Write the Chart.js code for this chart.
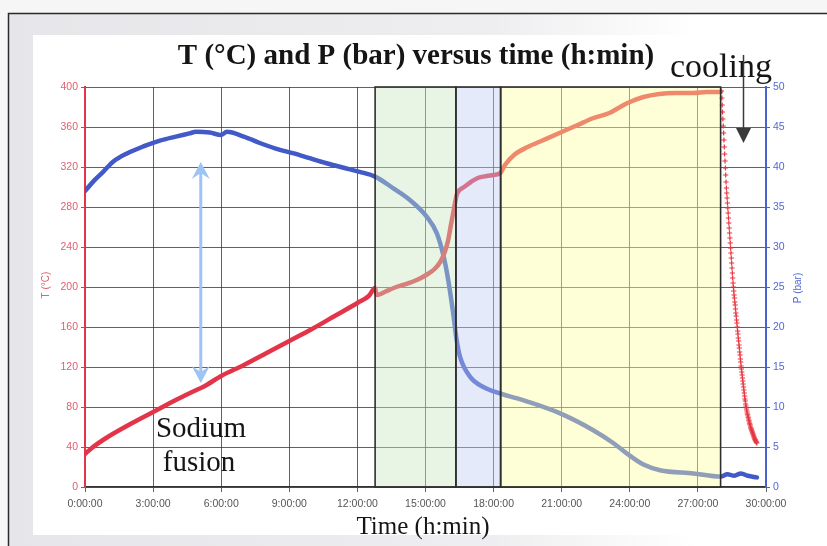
<!DOCTYPE html>
<html>
<head>
<meta charset="utf-8">
<title>T and P versus time</title>
<script src="https://cdn.jsdelivr.net/npm/chart.js@4.4.1/dist/chart.umd.min.js"></script>
<style>
  html, body { margin: 0; padding: 0; background: #fff; }
  #runChart { display: block; }
</style>
</head>
<body>
<canvas id="runChart" width="827" height="546"></canvas>
<script>
// ---- run log: temperature (°C) vs elapsed time (h) ----
var tempTime = [0, 0.3, 1, 2, 3, 4, 5, 5.2, 6, 7, 8, 9, 10, 11, 12, 12.5, 12.78, 12.85, 13.2,
                13.6, 14.0, 14.4, 14.8, 15.1, 15.4, 15.65, 15.85, 16.0, 16.12, 16.22, 16.3, 16.37, 16.5, 16.7, 17.0,
                17.3, 17.7, 18.0, 18.3, 18.5, 18.9, 19.5, 20.2, 20.9, 21.7, 22.4, 23.1, 23.5, 23.9,
                24.6, 25.3, 26.0, 26.8, 27.4, 28.0];
var tempValues = [33, 39, 50, 63, 75, 87, 98, 100, 111, 122, 134, 146, 158, 171, 184, 191, 199, 192, 195,
                  199, 202, 205, 209, 213, 218, 225, 235, 247, 262, 274, 284, 292, 297, 300, 305,
                  309, 311, 312, 314, 322, 332, 340, 347, 354, 362, 369, 374, 379, 384,
                  390, 393, 394, 394, 395, 395];

// cooling samples, logged at a fixed interval after the heater is switched off
var coolStart = 28.04;     // h
var coolInterval = 0.0154; // h between samples
var coolValues = [396, 389, 382, 375, 368, 361, 354, 347, 340, 333, 326, 319, 312, 305,
                  299, 294, 289, 284, 279, 274, 269, 264, 259, 254, 249, 244, 239, 234, 229, 224, 219, 214, 209, 204,
                  200, 196, 192, 189, 185, 182, 178, 174, 171, 167, 164, 160, 156, 153, 149, 146, 142, 139, 135, 132, 128, 125, 121,
                  118, 115, 112, 109, 106, 103, 100, 97, 94, 91, 88, 86, 83, 81, 79,
                  77, 75, 73, 72, 70, 69, 67, 66, 64, 63, 62, 60, 59, 58, 57, 56, 55, 54, 53, 52,
                  51, 50, 49, 48, 47, 47, 46, 45, 45, 44];

// ---- pressure (bar) vs elapsed time (h) ----
var presTime = [0, 0.4, 0.8, 1.25, 1.85, 2.6, 3.3, 4.0, 4.6, 4.9, 5.5, 6.0, 6.25, 7.0, 7.7, 8.4, 9.2, 9.9, 10.6, 11.4,
                12.1, 12.78, 13.6, 14.3, 15.05, 15.5, 15.8, 16.0, 16.22, 16.37, 16.52, 16.96, 17.55, 18.28, 19.46, 20.93,
                22.39, 23.27, 23.86, 24.6, 25.33, 26.8, 28.0, 28.3, 28.6, 28.9, 29.2, 29.6];
var presValues = [37.0, 38.3, 39.4, 40.7, 41.7, 42.6, 43.3, 43.8, 44.2, 44.4, 44.3, 44.0, 44.4, 43.8, 43.0, 42.3, 41.7, 41.1, 40.5, 39.9,
                  39.4, 38.8, 37.3, 35.9, 33.8, 31.7, 28.8, 25.9, 21.7, 18.4, 16.3, 13.8, 12.5, 11.7, 10.7, 9.2,
                  7.1, 5.5, 4.2, 2.8, 2.1, 1.7, 1.3, 1.6, 1.4, 1.7, 1.4, 1.2];

// process stages (h) shaded over the plot
var stageStart = [12.78, 16.34, 18.31];
var stageEnd = [16.34, 18.31, 28.0];
var stageFill = ['rgba(200,230,190,0.42)', 'rgba(190,205,240,0.42)', 'rgba(255,255,160,0.42)'];

// axis ranges
var timeMax = 30, timeStep = 3;
var tempMax = 400, tempStep = 40;
var presMax = 50, presStep = 5;

var RED = '#e2354a';
var BLUE = '#4259c8';

function pairs(xs, ys) {
    var out = [];
    for (var i = 0; i < xs.length; i++) out.push({ x: xs[i], y: ys[i] });
    return out;
}
function coolPoints() {
    var out = [];
    for (var i = 0; i < coolValues.length; i++) out.push({ x: coolStart + i * coolInterval, y: coolValues[i] });
    return out;
}
function hms(v) { return v + ':00:00'; }

// page / scanned sheet backdrop
var sheetPlugin = {
    id: 'sheet',
    beforeDraw: function(chart) {
        var c = chart.ctx;
        c.save();
        c.fillStyle = '#f6f6f6';
        c.fillRect(0, 0, 827, 546);
        var g = c.createLinearGradient(8, 0, 700, 0);
        g.addColorStop(0, '#e6e6ea');
        g.addColorStop(0.7, '#eeeef0');
        g.addColorStop(1, '#ffffff');
        c.fillStyle = g;
        c.fillRect(8, 13, 819, 533);
        c.fillStyle = '#ffffff';
        c.fillRect(33, 35, 794, 500);
        c.strokeStyle = '#2a2a2a';
        c.lineWidth = 1.5;
        c.beginPath();
        c.moveTo(8.5, 546); c.lineTo(8.5, 13.5); c.lineTo(827, 13.5);
        c.stroke();
        c.restore();
    }
};

// shaded stage boxes over the curves
var stagePlugin = {
    id: 'stages',
    afterDatasetsDraw: function(chart) {
        var c = chart.ctx, xs = chart.scales.x, ys = chart.scales.yT;
        var top = ys.getPixelForValue(tempMax), bot = ys.getPixelForValue(0);
        c.save();
        for (var i = 0; i < stageStart.length; i++) {
            var l = xs.getPixelForValue(stageStart[i]), r = xs.getPixelForValue(stageEnd[i]);
            c.fillStyle = stageFill[i];
            c.fillRect(l, top, r - l, bot - top);
        }
        c.strokeStyle = '#2e2e2e';
        c.lineWidth = 1.6;
        for (var j = 0; j < stageStart.length; j++) {
            var l2 = xs.getPixelForValue(stageStart[j]), r2 = xs.getPixelForValue(stageEnd[j]);
            c.strokeRect(l2, top, r2 - l2, bot - top);
        }
        c.restore();
    }
};

function arrowHead(c, x, y, dir) {
    // filled arrow head pointing up (dir=-1) or down (dir=1)
    c.beginPath();
    c.moveTo(x, y);
    c.lineTo(x - 9, y - dir * 17);
    c.lineTo(x, y - dir * 11);
    c.lineTo(x + 9, y - dir * 17);
    c.closePath();
    c.fill();
}

// titles, annotations and axis captions
var textPlugin = {
    id: 'captions',
    afterDraw: function(chart) {
        var c = chart.ctx, xs = chart.scales.x, ys = chart.scales.yT;
        c.save();
        c.fillStyle = '#151515';
        c.textAlign = 'center';
        c.textBaseline = 'alphabetic';
        c.font = 'bold 29px "Liberation Serif", "Times New Roman", serif';
        c.fillText('T (°C) and P (bar) versus time (h:min)', 416, 64);

        c.font = '34px "Liberation Serif", "Times New Roman", serif';
        c.fillText('cooling', 721, 77);
        c.font = '29px "Liberation Serif", "Times New Roman", serif';
        c.fillText('Sodium', 201, 437);
        c.fillText('fusion', 199, 471);
        c.font = '25px "Liberation Serif", "Times New Roman", serif';
        c.fillText('Time (h:min)', 423, 534);

        // cooling arrow
        c.strokeStyle = '#3a3a3a';
        c.fillStyle = '#3a3a3a';
        c.lineWidth = 1.5;
        c.beginPath();
        c.moveTo(743.5, 55); c.lineTo(743.5, 130);
        c.stroke();
        c.beginPath();
        c.moveTo(736, 128); c.lineTo(751, 128); c.lineTo(743.5, 143);
        c.closePath();
        c.fill();

        // sodium fusion span arrow
        var ax = xs.getPixelForValue(5.1);
        var ay1 = ys.getPixelForValue(325), ay2 = ys.getPixelForValue(104);
        c.strokeStyle = '#9ec3f5';
        c.fillStyle = '#9ec3f5';
        c.lineWidth = 3;
        c.beginPath();
        c.moveTo(ax, ay1 + 8); c.lineTo(ax, ay2 - 8);
        c.stroke();
        arrowHead(c, ax, ay1, -1);
        arrowHead(c, ax, ay2, 1);

        // axis captions
        c.font = '10px "Liberation Sans", Arial, sans-serif';
        c.textBaseline = 'middle';
        c.translate(46, 285);
        c.rotate(-Math.PI / 2);
        c.fillStyle = '#e0606e';
        c.fillText('T (°C)', 0, 0);
        c.restore();

        c.save();
        c.font = '10px "Liberation Sans", Arial, sans-serif';
        c.textAlign = 'center';
        c.textBaseline = 'middle';
        c.translate(798, 288);
        c.rotate(-Math.PI / 2);
        c.fillStyle = '#5068d8';
        c.fillText('P (bar)', 0, 0);
        c.restore();
    }
};

var tickFont = { family: '"Liberation Sans", Arial, sans-serif', size: 10.5 };

var runChart = new Chart(document.getElementById('runChart'), {
    type: 'line',
    data: {
        datasets: [{
            label: 'T',
            data: pairs(tempTime, tempValues),
            yAxisID: 'yT',
            borderColor: RED,
            borderWidth: 4.5,
            pointRadius: 0,
            cubicInterpolationMode: 'monotone',
            borderCapStyle: 'round',
            borderJoinStyle: 'round'
        }, {
            label: 'T cooling',
            data: coolPoints(),
            yAxisID: 'yT',
            showLine: false,
            pointStyle: 'cross',
            pointRadius: 2.6,
            borderColor: '#e8343f',
            backgroundColor: '#e8343f',
            pointBorderWidth: 1.2
        }, {
            label: 'P',
            data: pairs(presTime, presValues),
            yAxisID: 'yP',
            borderColor: BLUE,
            borderWidth: 4.5,
            pointRadius: 0,
            cubicInterpolationMode: 'monotone',
            borderCapStyle: 'round',
            borderJoinStyle: 'round'
        }]
    },
    options: {
        responsive: false,
        animation: false,
        devicePixelRatio: 1,
        layout: { padding: { top: 87, left: 0, right: 0, bottom: 0 } },
        plugins: {
            legend: { display: false },
            tooltip: { enabled: false },
            title: { display: false }
        },
        scales: {
            x: {
                type: 'linear',
                min: 0,
                max: timeMax,
                afterFit: function(s) { s.height = 59; },
                ticks: { stepSize: timeStep, color: '#555', font: tickFont, padding: 6, maxRotation: 0,
                         callback: function(v) { return hms(v); } },
                grid: { color: 'rgba(45,45,45,0.75)', lineWidth: 1, tickLength: 5, tickColor: '#666' },
                border: { color: '#333', width: 1.5 }
            },
            yT: {
                position: 'left',
                min: 0,
                max: tempMax,
                afterFit: function(s) { s.width = 85; },
                ticks: { stepSize: tempStep, color: '#e0606e', font: tickFont, padding: 3 },
                grid: { color: 'rgba(45,45,45,0.75)', lineWidth: 1, tickLength: 4, tickColor: RED },
                border: { color: RED, width: 2 }
            },
            yP: {
                position: 'right',
                min: 0,
                max: presMax,
                afterFit: function(s) { s.width = 61; },
                ticks: { stepSize: presStep, color: '#5068d8', font: tickFont, padding: 3 },
                grid: { drawOnChartArea: false, tickLength: 4, tickColor: '#4a62d0' },
                border: { color: '#4a62d0', width: 2 }
            }
        }
    },
    plugins: [sheetPlugin, stagePlugin, textPlugin]
});
</script>
</body>
</html>
